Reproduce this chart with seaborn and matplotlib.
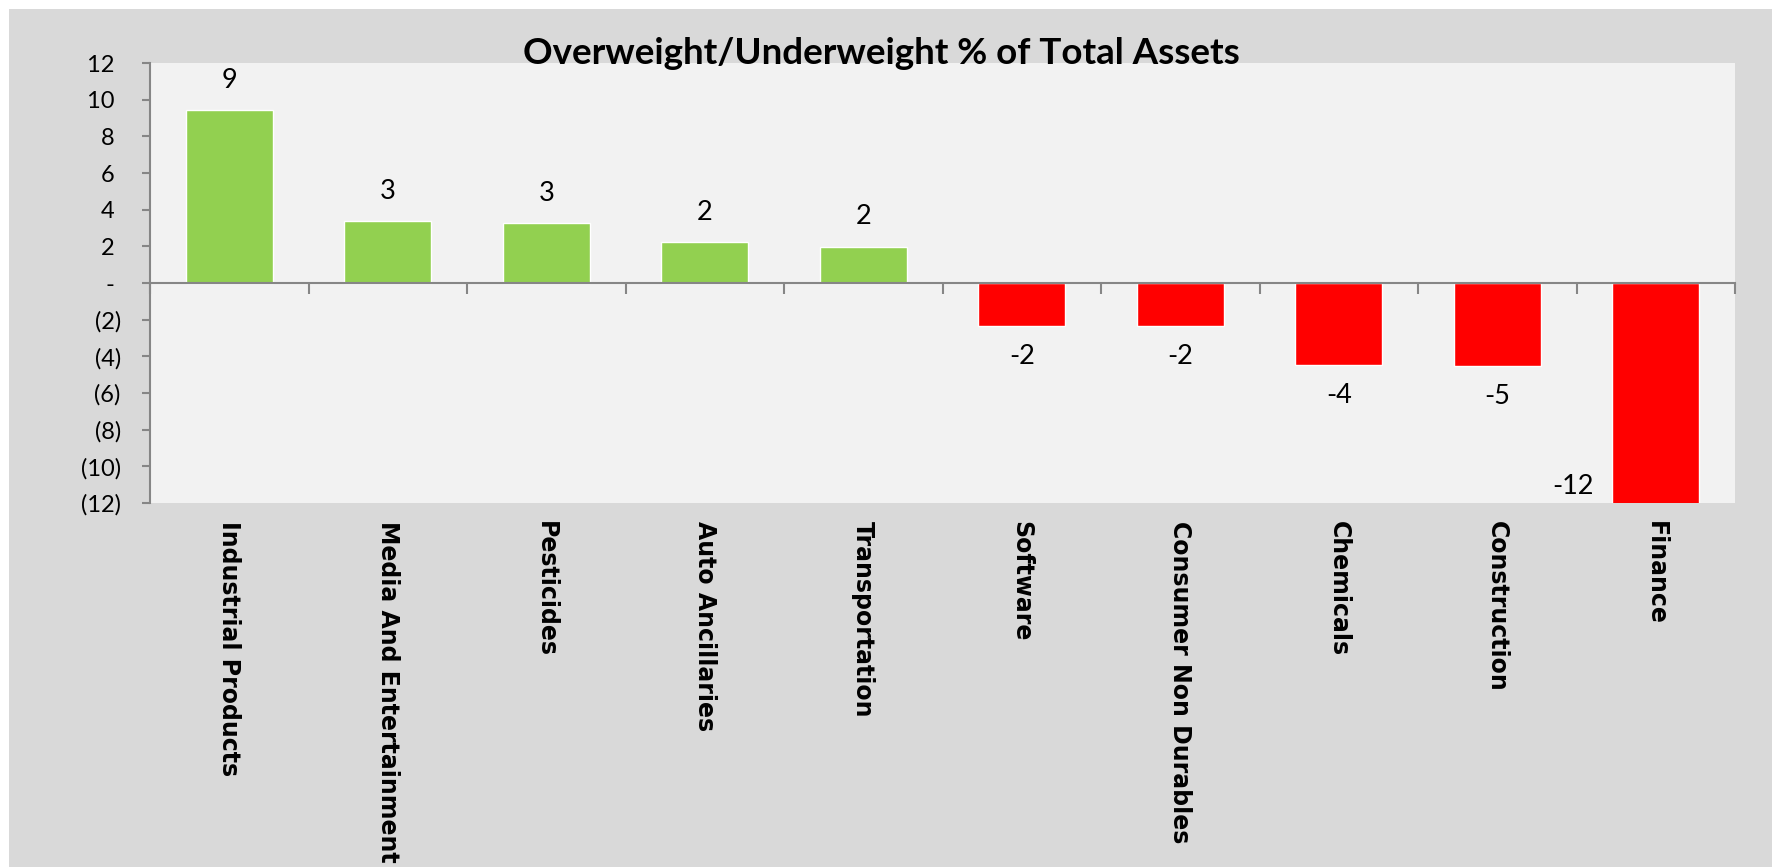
import matplotlib
matplotlib.use("Agg")
import matplotlib.pyplot as plt
from matplotlib.patches import Rectangle
import seaborn as sns
import pandas as pd
import numpy as np

categories = ["Industrial Products", "Media And Entertainment", "Pesticides",
              "Auto Ancillaries", "Transportation", "Software",
              "Consumer Non Durables", "Chemicals", "Construction", "Finance"]
values = [9.43, 3.38, 3.27, 2.22, 1.98, -2.35, -2.35, -4.48, -4.55, -12.2]
y_ticks = [12, 10, 8, 6, 4, 2, 0, -2, -4, -6, -8, -10, -12]
y_tick_labels = ["12 ", "10 ", "8 ", "6 ", "4 ", "2 ", "- ", "(2)", "(4)", "(6)", "(8)", "(10)", "(12)"]
title = "Overweight/Underweight % of Total Assets"

GREEN = "#92D050"
RED = "#FF0000"
AXIS = "#868686"

sns.set_style("white")
plt.rcParams["font.family"] = ["Lato", "DejaVu Sans"]
plt.rcParams["text.color"] = "black"
plt.rcParams["xtick.labelcolor"] = "black"
plt.rcParams["ytick.labelcolor"] = "black"

W, H = 1772, 867
fig = plt.figure(figsize=(W / 100, H / 100), dpi=100, facecolor="white")
fig.patches.append(Rectangle((9 / W, 0), 1, 1 - 9 / H, transform=fig.transFigure,
                             facecolor="#D9D9D9", edgecolor="none", zorder=-10))

left, right, top, bottom = 150, 1735, 63, 503
ax = fig.add_axes([left / W, 1 - bottom / H, (right - left) / W, (bottom - top) / H])
ax.set_facecolor("#F2F2F2")

df = pd.DataFrame({"cat": categories, "val": values})
df["sign"] = np.where(df["val"] >= 0, "pos", "neg")
sns.barplot(data=df, x="cat", y="val", hue="sign", palette={"pos": GREEN, "neg": RED},
            dodge=False, width=0.55, legend=False, ax=ax, saturation=1, zorder=2)

n = len(categories)
ax.set_xlim(-0.5, n - 0.5)
ax.set_ylim(-12, 12)
ax.set_xlabel("")
ax.set_ylabel("")

# y axis
ax.set_yticks(y_ticks)
ax.set_yticklabels(y_tick_labels, fontsize=17, color="black")
ax.tick_params(axis="y", which="major", direction="out", length=6, width=1.5,
               color=AXIS, pad=15, left=True)

# spines
for s in ["top", "right"]:
    ax.spines[s].set_visible(False)
ax.spines["left"].set_color(AXIS)
ax.spines["left"].set_linewidth(1.5)
ax.spines["bottom"].set_position(("data", 0))
ax.spines["bottom"].set_color(AXIS)
ax.spines["bottom"].set_linewidth(1.5)
ax.spines["bottom"].set_zorder(3)

# category boundary ticks on the zero line
ax.set_xticks(np.arange(n))
ax.set_xticklabels([])
ax.tick_params(axis="x", which="major", length=0)
ax.set_xticks(np.arange(n + 1) - 0.5, minor=True)
ax.tick_params(axis="x", which="minor", direction="out", length=8, width=1.5,
               color=AXIS, bottom=True)

# category labels below plot area
sec = ax.secondary_xaxis(0.0)
sec.set_xticks(np.arange(n), labels=categories)
sec.tick_params(axis="x", length=0, pad=13, labelsize=17, labelcolor="black",
                labelrotation=-90, labelfontfamily="DejaVu Sans")
for lab in sec.get_xticklabels():
    lab.set_fontweight("bold")
    lab.set_va("top")
    lab.set_ha("center")
sec.spines["bottom"].set_visible(False)

# data labels
off = 21.6
fs = 19.5
for i, v in enumerate(values):
    txt = f"{v:.0f}"
    if v >= 0:
        ax.annotate(txt, (i, v), xytext=(0, off), textcoords="offset points",
                    ha="center", va="center", fontsize=fs, color="black")
    elif v < ax.get_ylim()[0]:
        ax.annotate(txt, (i - 0.52, ax.get_ylim()[0] + 0.9), ha="center", va="center",
                    fontsize=fs, color="black")
    else:
        ax.annotate(txt, (i, v), xytext=(0, -off), textcoords="offset points",
                    ha="center", va="center", fontsize=fs, color="black")

fig.text(881 / W, 1 - 54 / H, title, ha="center", va="center", fontsize=26.5,
         fontweight="bold", color="black")

fig.savefig("out.png", dpi=100, facecolor=fig.get_facecolor())
